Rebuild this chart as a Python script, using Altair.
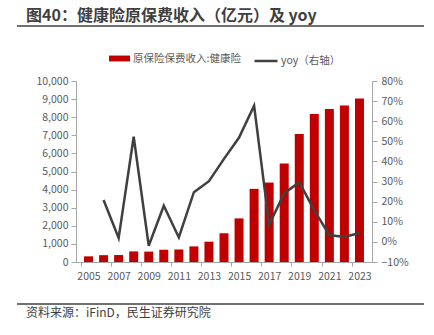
import altair as alt
import pandas as pd

# ---- data ----
years = list(range(2005, 2024))
premium = [312, 377, 384, 585, 574, 677, 692, 863, 1123, 1587, 2410,
           4042, 4389, 5448, 7066, 8173, 8447, 8653, 9035]
yoy_years = list(range(2006, 2024))
yoy = [0.208, 0.019, 0.523, -0.019, 0.180, 0.022, 0.247, 0.302, 0.413,
       0.519, 0.677, 0.086, 0.241, 0.297, 0.157, 0.034, 0.024, 0.044]
x_label_years = list(range(2005, 2024, 2))
left_ticks = list(range(0, 10001, 1000))
right_ticks = [-0.1, 0.0, 0.1, 0.2, 0.3, 0.4, 0.5, 0.6, 0.7, 0.8]

bar_name = "原保险保费收入:健康险"
line_name = "yoy（右轴）"
title_text = "图40：健康险原保费收入（亿元）及 yoy"
source_text = "资料来源：iFinD，民生证券研究院"

FONT = "Noto Sans CJK SC"
AXIS_GRAY = "#A6A6A6"
LABEL_GRAY = "#595959"

df_bar = pd.DataFrame({"year": years, "premium": premium, "series": bar_name})
df_line = pd.DataFrame({"year": yoy_years, "yoy": yoy, "series": line_name})

W, H = 296, 181
step = W / 19.0

x_axis = alt.Axis(values=x_label_years, format="d", title=None, grid=False,
                  tickOffset=-step / 2, labelOffset=step / 2, tickSize=4,
                  labelPadding=5, labelOverlap=False, labelBound=False,
                  domainColor=AXIS_GRAY, tickColor=AXIS_GRAY,
                  labelColor=LABEL_GRAY, labelFontSize=10.5, labelFont=FONT)
x_scale = alt.Scale(domain=[2004.5, 2023.5], nice=False, zero=False)

bars = alt.Chart(df_bar).mark_bar(size=9).encode(
    x=alt.X("year:Q", scale=x_scale, axis=x_axis),
    y=alt.Y("premium:Q", scale=alt.Scale(domain=[0, 10000], nice=False),
            axis=alt.Axis(values=left_ticks, format=",.0f", title=None, grid=False,
                          orient="left", tickSize=5, labelPadding=3,
                          labelOverlap=False,
                          domainColor=AXIS_GRAY, tickColor=AXIS_GRAY,
                          labelColor=LABEL_GRAY, labelFontSize=10.5, labelFont=FONT)),
    fill=alt.Fill("series:N", scale=alt.Scale(domain=[bar_name], range=["#C00000"]),
                  legend=alt.Legend(orient="none", legendX=33, legendY=-33,
                                    title=None, direction="horizontal",
                                    symbolType="M-1,-0.28H1V0.28H-1Z", symbolSize=441,
                                    symbolStrokeWidth=0, labelOffset=3, padding=0,
                                    labelFont=FONT, labelFontSize=10.5,
                                    labelColor=LABEL_GRAY)),
)

line = alt.Chart(df_line).mark_line(strokeWidth=2.5).encode(
    x=alt.X("year:Q", scale=x_scale, axis=x_axis),
    y=alt.Y("yoy:Q", scale=alt.Scale(domain=[-0.1, 0.8], nice=False, zero=False),
            axis=alt.Axis(values=right_ticks, format=".0%", title=None, grid=False,
                          orient="right", tickSize=5, labelPadding=4,
                          labelOverlap=False,
                          domainColor=AXIS_GRAY, tickColor=AXIS_GRAY,
                          labelColor=LABEL_GRAY, labelFontSize=10.5, labelFont=FONT)),
    stroke=alt.Stroke("series:N", scale=alt.Scale(domain=[line_name], range=["#404040"]),
                      legend=alt.Legend(orient="none", legendX=177, legendY=-33,
                                        title=None, direction="horizontal",
                                        symbolType="stroke", symbolSize=529,
                                        symbolStrokeWidth=2.5, labelOffset=2, padding=0,
                                        labelFont=FONT, labelFontSize=10.5,
                                        labelColor=LABEL_GRAY)),
)

title = alt.Chart(pd.DataFrame({"t": [title_text]})).mark_text(
    align="left", baseline="middle", font=FONT, fontSize=16, fontWeight="bold",
    color="#3F3F3F"
).encode(text="t:N", x=alt.value(-50), y=alt.value(-65))

title_rule = alt.Chart(pd.DataFrame({"a": [0]})).mark_rule(
    color="#404040", strokeWidth=1.5
).encode(x=alt.value(-59), x2=alt.value(348), y=alt.value(-55))

footer_rule = alt.Chart(pd.DataFrame({"a": [0]})).mark_rule(
    color="#404040", strokeWidth=1.5
).encode(x=alt.value(-59), x2=alt.value(348), y=alt.value(223))

footer = alt.Chart(pd.DataFrame({"t": [source_text]})).mark_text(
    align="left", baseline="middle", font=FONT, fontSize=12, color="#404040"
).encode(text="t:N", x=alt.value(-50), y=alt.value(232))

chart = alt.layer(bars, line, title, title_rule, footer_rule, footer).resolve_scale(
    y="independent"
).properties(
    width=W, height=H,
    autosize=alt.AutoSizeParams(type="none"),
    padding={"left": 76, "top": 81, "right": 62, "bottom": 73},
    background="white",
).configure_view(stroke=None).configure_axisX(labelOverlap=False)

chart.save("out.html", embed_options={"renderer": "svg", "actions": False})
